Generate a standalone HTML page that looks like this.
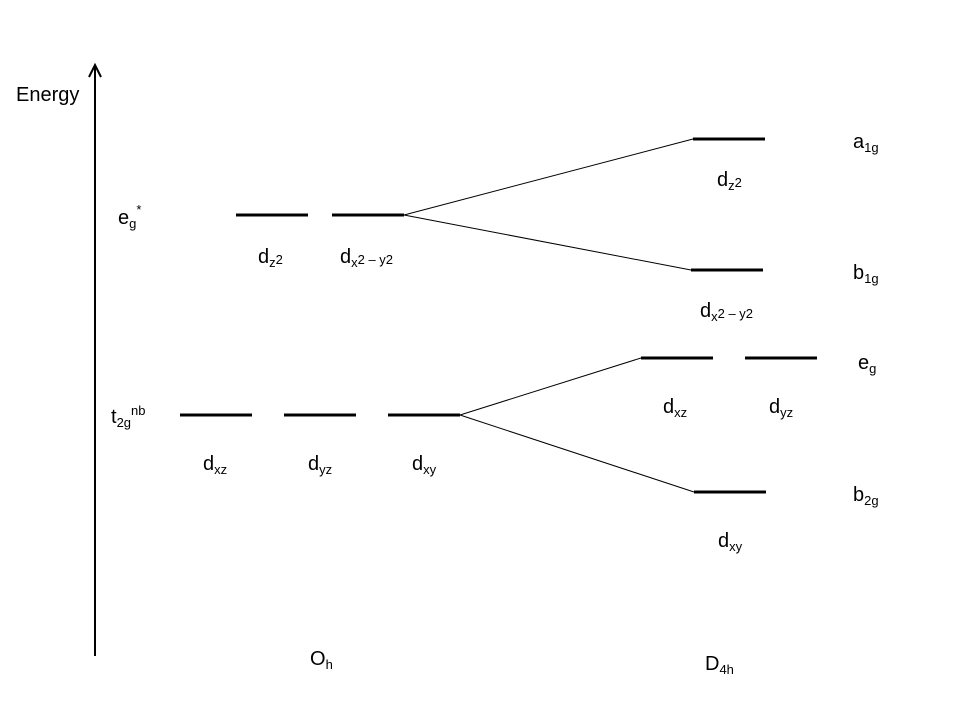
<!DOCTYPE html>
<html><head><meta charset="utf-8"><style>
html,body{margin:0;padding:0;background:#fff}
svg{display:block}
text{font-family:"Liberation Sans","DejaVu Sans",sans-serif;font-size:20px;fill:#000}
.s{font-size:13px}
</style></head><body>
<svg width="960" height="720" viewBox="0 0 960 720">
<line x1="95" y1="656" x2="95" y2="66" stroke="#000" stroke-width="2"/>
<polyline points="89,77 95,65 101,77" fill="none" stroke="#000" stroke-width="2"/>
<g stroke="#000" stroke-width="3">
<line x1="236" y1="215" x2="308" y2="215"/>
<line x1="332" y1="215" x2="404" y2="215"/>
<line x1="180" y1="415" x2="252" y2="415"/>
<line x1="284" y1="415" x2="356" y2="415"/>
<line x1="388" y1="415" x2="460" y2="415"/>
<line x1="693" y1="139" x2="765" y2="139"/>
<line x1="691" y1="270" x2="763" y2="270"/>
<line x1="641" y1="358" x2="713" y2="358"/>
<line x1="745" y1="358" x2="817" y2="358"/>
<line x1="694" y1="492" x2="766" y2="492"/>
</g>
<g stroke="#000" stroke-width="1">
<line x1="404" y1="215" x2="693" y2="139"/>
<line x1="404" y1="215" x2="691" y2="270"/>
<line x1="460" y1="415" x2="641" y2="358"/>
<line x1="460" y1="415" x2="694" y2="492"/>
</g>
<text x="16" y="101">Energy</text>
<text x="118" y="224">e<tspan class="s" dy="4">g</tspan><tspan class="s" dy="-14">*</tspan></text>
<text x="258" y="263">d<tspan class="s" dy="4">z</tspan><tspan class="s" dy="-3">2</tspan></text>
<text x="340" y="263">d<tspan class="s" dy="4">x</tspan><tspan class="s" dy="-3">2 – y2</tspan></text>
<text x="111" y="423">t<tspan class="s" dy="4">2g</tspan><tspan class="s" dy="-12">nb</tspan></text>
<text x="203" y="470">d<tspan class="s" dy="4">xz</tspan></text>
<text x="308" y="470">d<tspan class="s" dy="4">yz</tspan></text>
<text x="412" y="470">d<tspan class="s" dy="4">xy</tspan></text>
<text x="310" y="665">O<tspan class="s" dy="4">h</tspan></text>
<text x="705" y="670">D<tspan class="s" dy="4">4h</tspan></text>
<text x="853" y="148">a<tspan class="s" dy="4">1g</tspan></text>
<text x="717" y="186">d<tspan class="s" dy="4">z</tspan><tspan class="s" dy="-3">2</tspan></text>
<text x="853" y="279">b<tspan class="s" dy="4">1g</tspan></text>
<text x="700" y="317">d<tspan class="s" dy="4">x</tspan><tspan class="s" dy="-3">2 – y2</tspan></text>
<text x="858" y="369">e<tspan class="s" dy="4">g</tspan></text>
<text x="663" y="413">d<tspan class="s" dy="4">xz</tspan></text>
<text x="769" y="413">d<tspan class="s" dy="4">yz</tspan></text>
<text x="853" y="501">b<tspan class="s" dy="4">2g</tspan></text>
<text x="718" y="547">d<tspan class="s" dy="4">xy</tspan></text>
</svg>
</body></html>
